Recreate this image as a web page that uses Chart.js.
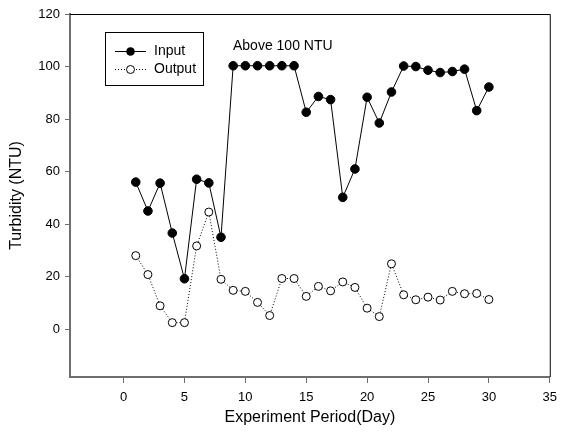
<!DOCTYPE html>
<html>
<head>
<meta charset="utf-8">
<script src="https://cdn.jsdelivr.net/npm/chart.js@4"></script>
<style>
  html, body { margin: 0; padding: 0; background: #fff; }
  #wrap { width: 564px; height: 436px; position: relative; }
</style>
</head>
<body>
<div id="wrap"><canvas id="chart" width="564" height="436"></canvas></div>
<script>
// Experiment days
const days = [1,2,3,4,5,6,7,8,9,10,11,12,13,14,15,16,17,18,19,20,21,22,23,24,25,26,27,28,29,30];

// Turbidity values (NTU)
const inputNTU = [56, 45, 55.6, 36.6, 19.2, 57.1, 55.7, 35, 100.3, 100.3, 100.3, 100.3, 100.3, 100.3,
  82.6, 88.6, 87.4, 50.2, 61, 88.3, 78.5, 90.3, 100.2, 100, 98.6, 97.7, 98.1, 99, 83.2, 92.2];
const outputNTU = [28, 20.8, 8.9, 2.5, 2.5, 31.7, 44.6, 19, 14.8, 14.4, 10.2, 5.2, 19.3, 19.3,
  12.5, 16.3, 14.6, 18, 15.9, 8, 4.8, 24.9, 13.1, 11.2, 12.2, 11.1, 14.4, 13.5, 13.6, 11.3];

// Tick labels
const xTicks = [0, 5, 10, 15, 20, 25, 30, 35];
const yTicks = [0, 20, 40, 60, 80, 100, 120];

const axisGray = '#6e6e6e';
const fontFamily = 'Arial, "Liberation Sans", sans-serif';

// frame, axis titles, legend box and annotation
const extras = {
  id: 'extras',
  afterDraw(chart) {
    const c = chart.ctx;
    const a = chart.chartArea;
    c.save();
    // top and right frame lines
    c.strokeStyle = '#000';
    c.lineWidth = 1;
    c.beginPath();
    c.moveTo(a.left, a.top + 0.5);
    c.lineTo(a.right + 0.5, a.top + 0.5);
    c.lineTo(a.right + 0.5, a.bottom);
    c.stroke();

    // axis titles
    c.fillStyle = '#000';
    c.font = '16px ' + fontFamily;
    c.textAlign = 'center';
    c.textBaseline = 'middle';
    c.fillText('Experiment Period(Day)', (a.left + a.right) / 2, 418);
    c.save();
    c.translate(17, (a.top + a.bottom) / 2);
    c.rotate(-Math.PI / 2);
    c.fillText('Turbidity (NTU)', 0, 0);
    c.restore();

    // annotation
    c.font = '14px ' + fontFamily;
    c.textAlign = 'left';
    c.fillText('Above 100 NTU', 233, 46);

    // legend
    c.strokeStyle = '#000';
    c.lineWidth = 1;
    c.strokeRect(105.5, 32.5, 98, 53);
    c.beginPath();
    c.moveTo(115, 51.5);
    c.lineTo(146, 51.5);
    c.stroke();
    c.beginPath();
    c.arc(130.5, 51.5, 4.3, 0, Math.PI * 2);
    c.fillStyle = '#000';
    c.fill();
    c.setLineDash([1, 2]);
    c.beginPath();
    c.moveTo(115, 69.5);
    c.lineTo(146, 69.5);
    c.stroke();
    c.setLineDash([]);
    c.beginPath();
    c.arc(130.5, 69.5, 4, 0, Math.PI * 2);
    c.fillStyle = '#fff';
    c.fill();
    c.stroke();
    c.fillStyle = '#000';
    c.font = '14px ' + fontFamily;
    c.fillText('Input', 154, 51);
    c.fillText('Output', 154, 69);
    c.restore();
  }
};

const ctx = document.getElementById('chart').getContext('2d');
const chart = new Chart(ctx, {
  type: 'line',
  data: {
    datasets: [{
      label: 'Input',
      data: days.map((d, i) => ({ x: d, y: inputNTU[i] })),
      borderColor: '#000',
      borderWidth: 1,
      pointRadius: 4.3,
      pointBackgroundColor: '#000',
      pointBorderColor: '#000',
      pointBorderWidth: 1,
      fill: false,
      tension: 0
    }, {
      label: 'Output',
      data: days.map((d, i) => ({ x: d, y: outputNTU[i] })),
      borderColor: '#000',
      borderWidth: 1,
      borderDash: [1, 2],
      pointRadius: 4,
      pointBackgroundColor: '#fff',
      pointBorderColor: '#000',
      pointBorderWidth: 1,
      fill: false,
      tension: 0
    }]
  },
  options: {
    responsive: false,
    animation: false,
    layout: { padding: { top: 14, right: 10, left: 0, bottom: 0 } },
    plugins: { legend: { display: false }, tooltip: { enabled: false } },
    scales: {
      x: {
        type: 'linear',
        min: -4.4,
        max: 35,
        afterBuildTicks: s => { s.ticks = xTicks.map(v => ({ value: v })); },
        afterFit: s => { s.height = 59; },
        border: { display: true, color: axisGray, width: 2 },
        grid: { drawOnChartArea: false, drawTicks: true, tickLength: 6, color: axisGray, lineWidth: 1 },
        ticks: { color: '#000', font: { size: 13, family: fontFamily }, padding: 7, maxRotation: 0 }
      },
      y: {
        type: 'linear',
        min: -18.2,
        max: 120,
        afterBuildTicks: s => { s.ticks = yTicks.map(v => ({ value: v })); },
        afterFit: s => { s.width = 70; },
        border: { display: true, color: axisGray, width: 2 },
        grid: { drawOnChartArea: false, drawTicks: true, tickLength: 5, color: axisGray, lineWidth: 1 },
        ticks: { color: '#000', font: { size: 13, family: fontFamily }, padding: 5 }
      }
    }
  },
  plugins: [extras]
});
</script>
</body>
</html>
